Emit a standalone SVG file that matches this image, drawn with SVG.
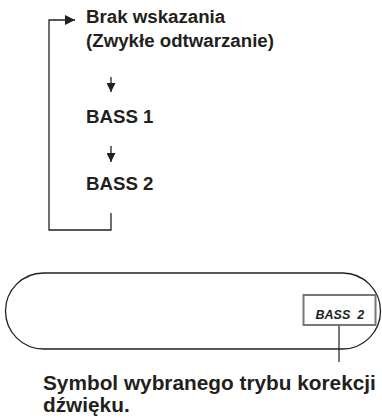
<svg xmlns="http://www.w3.org/2000/svg" width="382" height="418" viewBox="0 0 382 418">
<defs>
<style>
.t{font-family:"Liberation Sans",Arial,sans-serif;font-weight:bold;fill:#231f20}
.ln{fill:none;stroke:#231f20;stroke-width:1.3}
</style>
<marker id="ah" viewBox="0 0 10 10" refX="10" refY="5" markerWidth="10" markerHeight="9" markerUnits="userSpaceOnUse" orient="auto"><path d="M0,0 L10,5 L0,10 Z" fill="#231f20"/></marker>
<marker id="ah2" viewBox="0 0 10 10" refX="10" refY="5" markerWidth="10" markerHeight="10" markerUnits="userSpaceOnUse" orient="auto"><path d="M0,0 L10,5 L0,10 Z" fill="#231f20"/></marker>
</defs>
<rect width="382" height="418" fill="#fff"/>
<g id="connectors">
<path class="ln" d="M111,213 V230 H49 V20 H75" marker-end="url(#ah2)"/>
<path class="ln" d="M111,77 V92" marker-end="url(#ah)"/>
<path class="ln" d="M111,146 V162" marker-end="url(#ah)"/>
<path d="M339,325 V362" fill="none" stroke="#777" stroke-width="2"/>
</g>
<g id="n-brak"><text class="t" x="86" y="23" font-size="18.7">Brak wskazania</text><text class="t" x="86" y="47" font-size="18.7">(Zwykłe odtwarzanie)</text></g>
<g id="n-bass1"><text class="t" x="86" y="123" font-size="18.7">BASS 1</text></g>
<g id="n-bass2"><text class="t" x="86" y="190" font-size="18.7">BASS 2</text></g>
<g id="n-display"><rect x="5.5" y="273" width="375" height="76" rx="38" ry="38" fill="none" stroke="#231f20" stroke-width="1.3"/></g>
<g id="n-symbol"><rect x="303.5" y="295" width="72" height="30" fill="#fff" stroke="#777" stroke-width="2"/><text class="t" x="315.5" y="319" font-size="12.5" font-style="italic" xml:space="preserve">BASS  2</text></g>
<g id="n-caption"><text class="t" x="43" y="390" font-size="20.8">Symbol wybranego trybu korekcji</text><text class="t" x="43" y="412" font-size="20.8">dźwięku.</text></g>
</svg>
